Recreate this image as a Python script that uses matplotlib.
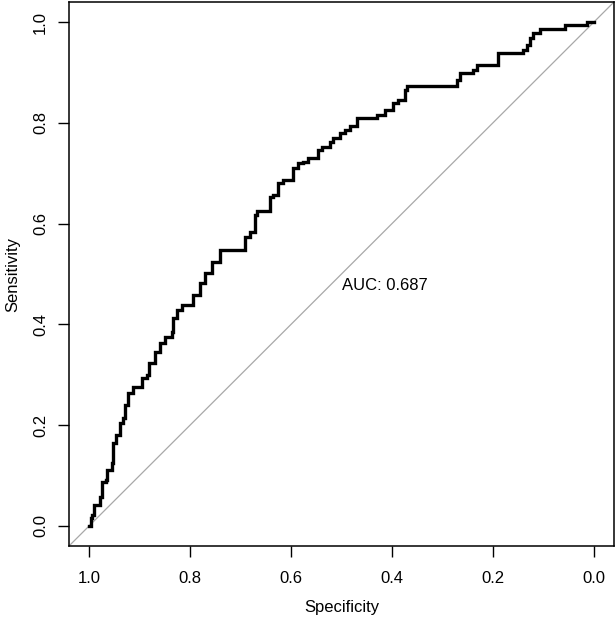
import matplotlib
matplotlib.use("Agg")
import matplotlib.pyplot as plt

plt.rcParams['font.family'] = ['Liberation Sans', 'DejaVu Sans']

# ROC curve vertices (specificity, sensitivity)
specificity = [1.000, 0.996, 0.994, 0.990, 0.984, 0.978, 0.974, 0.966, 0.964, 0.954,
               0.952, 0.947, 0.939, 0.933, 0.929, 0.923, 0.913, 0.899, 0.895, 0.885,
               0.881, 0.869, 0.859, 0.850, 0.836, 0.834, 0.826, 0.816, 0.804, 0.794,
               0.780, 0.770, 0.756, 0.741, 0.695, 0.691, 0.681, 0.671, 0.667, 0.651,
               0.642, 0.636, 0.626, 0.616, 0.596, 0.586, 0.576, 0.566, 0.547, 0.539,
               0.523, 0.517, 0.503, 0.493, 0.483, 0.469, 0.438, 0.430, 0.414, 0.398,
               0.388, 0.374, 0.370, 0.279, 0.271, 0.265, 0.246, 0.240, 0.232, 0.196,
               0.190, 0.147, 0.141, 0.133, 0.127, 0.121, 0.107, 0.061, 0.057, 0.018,
               0.014, 0.000]
sensitivity = [0.000, 0.016, 0.022, 0.042, 0.042, 0.058, 0.087, 0.091, 0.111, 0.125,
               0.165, 0.181, 0.204, 0.214, 0.240, 0.264, 0.276, 0.276, 0.294, 0.300,
               0.323, 0.345, 0.363, 0.375, 0.385, 0.413, 0.429, 0.438, 0.438, 0.458,
               0.482, 0.502, 0.524, 0.548, 0.548, 0.573, 0.583, 0.617, 0.625, 0.625,
               0.653, 0.657, 0.681, 0.687, 0.710, 0.720, 0.722, 0.730, 0.746, 0.752,
               0.762, 0.770, 0.780, 0.786, 0.794, 0.810, 0.810, 0.815, 0.825, 0.839,
               0.845, 0.865, 0.873, 0.873, 0.885, 0.899, 0.899, 0.905, 0.915, 0.915,
               0.938, 0.938, 0.944, 0.954, 0.968, 0.978, 0.986, 0.986, 0.994, 0.994,
               1.000, 1.000]
auc_label = "AUC: 0.687"
ticks = [1.0, 0.8, 0.6, 0.4, 0.2, 0.0]
tick_labels = ["1.0", "0.8", "0.6", "0.4", "0.2", "0.0"]

fig = plt.figure(figsize=(6.15, 6.19), dpi=100)
ax = fig.add_axes([69/615, 73/619, 545/615, 544/619])

ax.axline((1, 0), (0, 1), color='#a8a8a8', lw=0.9, zorder=1)
ax.plot(specificity, sensitivity, color='black', lw=2.4, drawstyle='steps-post',
        solid_joinstyle='miter', zorder=2)

ax.text(0.5, 0.478, auc_label, fontsize=12, ha='left', va='center')

ax.set_xlim(1.04, -0.04)
ax.set_ylim(-0.04, 1.04)
ax.set_xticks(ticks)
ax.set_xticklabels(tick_labels)
ax.set_yticks(ticks)
ax.set_yticklabels(tick_labels, rotation=90, va='center')
ax.tick_params(axis='both', direction='out', length=8, width=1.0, labelsize=12,
               color='black')
ax.tick_params(axis='x', pad=10)
ax.tick_params(axis='y', pad=7)
for s in ax.spines.values():
    s.set_linewidth(1.1)
    s.set_color('black')

ax.set_xlabel("Specificity", fontsize=12, labelpad=10)
ax.set_ylabel("Sensitivity", fontsize=12, labelpad=9)

fig.savefig("out.png", dpi=100)
